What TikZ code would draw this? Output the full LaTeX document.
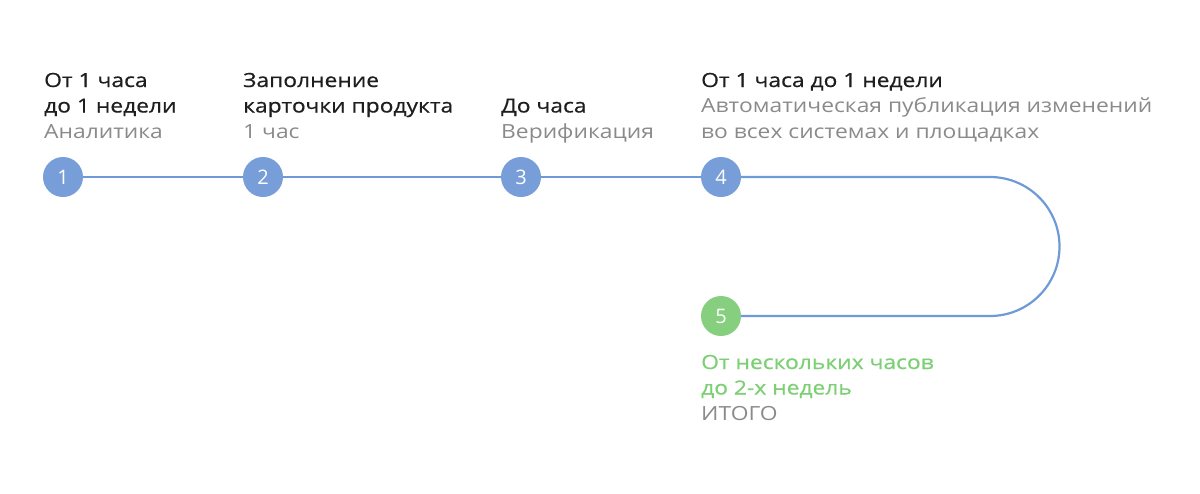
\documentclass[tikz,border=0pt]{standalone}
\usepackage{fontspec}
\setmainfont{Open Sans}[FakeStretch=1.17]
\newfontfamily\headfont{Open Sans}[FakeStretch=1.17,FakeBold=0.6]
\newfontfamily\numfont{Open Sans}
\definecolor{bluef}{HTML}{779ED8}
\definecolor{bluel}{HTML}{6F9AD8}
\definecolor{greenf}{HTML}{86CF7E}
\definecolor{greent}{HTML}{7CCF74}
\definecolor{dark}{HTML}{1E1E1E}
\definecolor{grey}{HTML}{8A8A8A}
\newcommand{\hd}[1]{{\headfont\textcolor{dark}{#1}}}
\newcommand{\gr}[1]{\textcolor{grey}{#1}}
\newcommand{\gn}[1]{{\headfont\textcolor{greent}{#1}}}
\begin{document}
\begin{tikzpicture}[x=1pt,y=-1pt,
  stepdot/.style={circle,minimum size=40pt,inner sep=0pt,fill=bluef,text=white,font=\numfont\fontsize{20}{22}\selectfont},
  lastdot/.style={stepdot,fill=greenf},
  conn/.style={draw=bluel,line width=2.2pt},
  lbl/.style={anchor=base west,inner sep=0pt,font=\fontsize{19.5}{25.5}\selectfont,align=left}]
\useasboundingbox (0,0) rectangle (1200,493);
\coordinate (t1) at (990,177);
\coordinate (t2) at (990,316);
\node[stepdot] (c1) at (63,177) {1};
\node[stepdot] (c2) at (263,177) {2};
\node[stepdot] (c3) at (521,177) {3};
\node[stepdot] (c4) at (721,177) {4};
\node[lastdot] (c5) at (721,316) {5};
\draw[conn] (c1) -- (c2) -- (c3) -- (c4);
\draw[conn] (c4.east) -- (t1) arc[start angle=-90,end angle=90,radius=69.5] -- (c5.east);
\node[lbl] (l1) at (44,138) {\hd{От 1 часа}\\\hd{до 1 недели}\\\gr{Аналитика}};
\node[lbl] (l2) at (243,138) {\hd{Заполнение}\\\hd{карточки продукта}\\\gr{1 час}};
\node[lbl] (l3) at (501,138) {\hd{До часа}\\\gr{Верификация}};
\node[lbl] (l4) at (701,138) {\hd{От 1 часа до 1 недели}\\\gr{Автоматическая публикация изменений}\\\gr{во всех системах и площадках}};
\node[lbl] (l5) at (701,420) {\gn{От нескольких часов}\\\gn{до 2-х недель}\\\gr{ИТОГО}};
\end{tikzpicture}
\end{document}
